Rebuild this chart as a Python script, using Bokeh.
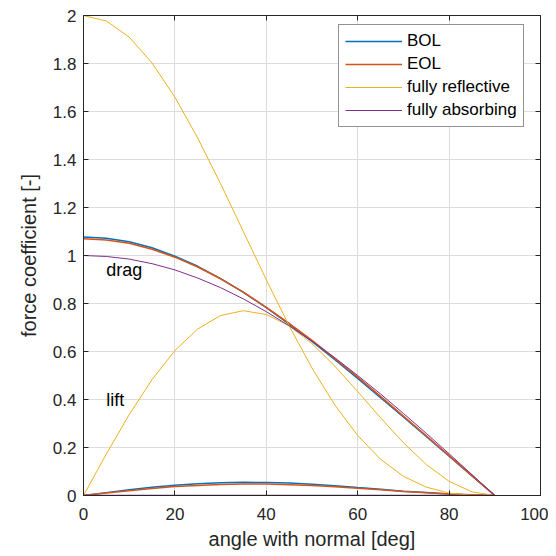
from bokeh.plotting import figure
from bokeh.models import LinearAxis, Legend, LegendItem, FixedTicker, Label, CustomLabelingPolicy
from bokeh.embed import file_html
from bokeh.resources import INLINE

angle = [0, 5, 10, 15, 20, 25, 30, 35, 40, 45, 50, 55, 60, 65, 70, 75, 80, 85, 90]

bol_drag = [1.077, 1.072, 1.057, 1.032, 0.997, 0.955, 0.904, 0.846, 0.783, 0.714, 0.642, 0.566,
            0.488, 0.408, 0.327, 0.246, 0.164, 0.082, 0.0]
bol_lift = [0.0, 0.012, 0.024, 0.034, 0.043, 0.049, 0.053, 0.055, 0.054, 0.052, 0.047, 0.041,
            0.033, 0.026, 0.018, 0.012, 0.006, 0.002, 0.0]
eol_drag = [1.070, 1.065, 1.051, 1.026, 0.993, 0.952, 0.903, 0.847, 0.784, 0.717, 0.646, 0.570,
            0.493, 0.413, 0.331, 0.249, 0.166, 0.083, 0.0]
eol_lift = [0.0, 0.010, 0.020, 0.029, 0.037, 0.042, 0.046, 0.048, 0.048, 0.045, 0.042, 0.036,
            0.030, 0.024, 0.017, 0.011, 0.006, 0.003, 0.0]
refl_drag = [2.0, 1.977, 1.910, 1.802, 1.660, 1.489, 1.299, 1.099, 0.899, 0.707, 0.531, 0.377,
             0.250, 0.151, 0.080, 0.035, 0.010, 0.001, 0.0]
refl_lift = [0.0, 0.173, 0.337, 0.483, 0.604, 0.694, 0.750, 0.770, 0.754, 0.707, 0.633, 0.539,
             0.433, 0.324, 0.220, 0.129, 0.059, 0.015, 0.0]
abs_drag = [1.0, 0.996, 0.985, 0.966, 0.940, 0.906, 0.866, 0.819, 0.766, 0.707, 0.643, 0.574,
            0.500, 0.423, 0.342, 0.259, 0.174, 0.087, 0.0]
abs_lift = [0.0] * 19

x_ticks = [0, 20, 40, 60, 80, 100]
y_ticks = [0, 0.2, 0.4, 0.6, 0.8, 1.0, 1.2, 1.4, 1.6, 1.8, 2.0]
y_tick_labels = ["0", "0.2", "0.4", "0.6", "0.8", "1", "1.2", "1.4", "1.6", "1.8", "2"]

C_BOL = "#0072BD"
C_EOL = "#D95319"
C_REF = "#EDB120"
C_ABS = "#7E2F8E"
FONT = "Liberation Sans"
AX = "#262626"

p = figure(width=548, height=555, x_range=(0, 100), y_range=(0, 2),
           output_backend="svg", toolbar_location=None,
           min_border_left=83, min_border_right=8, min_border_top=15, min_border_bottom=60,
           x_axis_label="angle with normal [deg]", y_axis_label="force coefficient [-]")
p.background_fill_color = "white"
p.border_fill_color = "white"
p.outline_line_color = AX
p.outline_line_width = 1

for ax in (p.xaxis[0], p.yaxis[0]):
    ax.axis_line_color = AX
    ax.major_tick_line_color = AX
    ax.major_tick_in = 5
    ax.major_tick_out = 0
    ax.minor_tick_line_color = None
    ax.major_label_text_font = FONT
    ax.major_label_text_font_size = "17px"
    ax.major_label_text_color = AX
    ax.axis_label_text_font = FONT
    ax.axis_label_text_font_size = "20px"
    ax.axis_label_text_font_style = "normal"
    ax.axis_label_text_color = AX

p.xaxis[0].ticker = FixedTicker(ticks=x_ticks)
p.yaxis[0].ticker = FixedTicker(ticks=y_ticks)
p.yaxis[0].major_label_overrides = {t: l for t, l in zip(y_ticks, y_tick_labels)}
p.xaxis[0].major_label_standoff = 12
p.yaxis[0].major_label_standoff = 7
p.xaxis[0].axis_label_standoff = 5
p.yaxis[0].axis_label_standoff = 10

# box ticks on right and top (no labels)
ra = LinearAxis(ticker=FixedTicker(ticks=y_ticks),
                major_label_policy=CustomLabelingPolicy(code="return new Set()"))
ta = LinearAxis(ticker=FixedTicker(ticks=x_ticks),
                major_label_policy=CustomLabelingPolicy(code="return new Set()"))
for ax in (ra, ta):
    ax.axis_line_color = AX
    ax.major_tick_line_color = AX
    ax.major_tick_in = 5
    ax.major_tick_out = 0
    ax.minor_tick_line_color = None
    ax.major_label_standoff = 0
    ax.major_label_text_font_size = "1px"
p.add_layout(ra, "right")
p.add_layout(ta, "above")

p.xgrid.ticker = FixedTicker(ticks=x_ticks)
p.ygrid.ticker = FixedTicker(ticks=y_ticks)
p.xgrid.grid_line_color = "#dcdcdc"
p.ygrid.grid_line_color = "#dcdcdc"

r_bol = p.line(angle, bol_drag, line_color=C_BOL, line_width=1.5)
p.line(angle, bol_lift, line_color=C_BOL, line_width=1.5)
r_eol = p.line(angle, eol_drag, line_color=C_EOL, line_width=1.5)
p.line(angle, eol_lift, line_color=C_EOL, line_width=1.5)
r_ref = p.line(angle, refl_drag, line_color=C_REF, line_width=1)
p.line(angle, refl_lift, line_color=C_REF, line_width=1)
r_abs = p.line(angle, abs_drag, line_color=C_ABS, line_width=1)
p.line(angle, abs_lift, line_color=C_ABS, line_width=1.5)

p.add_layout(Label(x=5, y=0.94, text="drag", text_font=FONT, text_font_size="18px",
                   text_color="black", text_baseline="middle"))
p.add_layout(Label(x=5, y=0.40, text="lift", text_font=FONT, text_font_size="18px",
                   text_color="black", text_baseline="middle"))

legend = Legend(items=[
    LegendItem(label="BOL", renderers=[r_bol]),
    LegendItem(label="EOL", renderers=[r_eol]),
    LegendItem(label="fully reflective", renderers=[r_ref]),
    LegendItem(label="fully absorbing", renderers=[r_abs]),
], location=(255, 368))
legend.label_text_font = FONT
legend.label_text_font_size = "17px"
legend.label_text_color = "black"
legend.glyph_width = 57
legend.glyph_height = 20
legend.label_height = 20
legend.label_standoff = 5
legend.spacing = 3
legend.padding = 6
legend.margin = 0
legend.border_line_color = AX
legend.border_line_width = 1
legend.background_fill_color = "white"
legend.background_fill_alpha = 1
p.add_layout(legend, "center")

open("out.html", "w").write(file_html(p, INLINE))
